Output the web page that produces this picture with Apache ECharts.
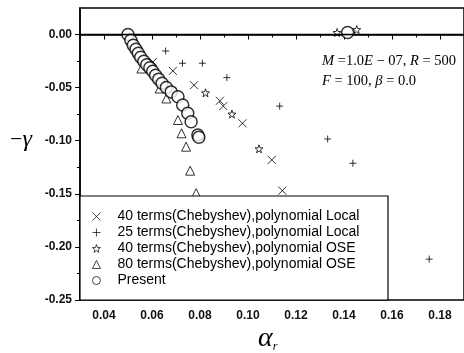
<!DOCTYPE html>
<html><head><meta charset="utf-8">
<script src="https://cdn.jsdelivr.net/npm/echarts@6/dist/echarts.min.js"></script>
<style>html,body{margin:0;padding:0;background:#fff}#c{width:464px;height:353px}</style>
</head><body><div id="c"></div>
<script>
// ---- data ----
var xTickValues = [0.04, 0.06, 0.08, 0.10, 0.12, 0.14, 0.16, 0.18];
var xMinorTickValues = [0.03, 0.05, 0.07, 0.09, 0.11, 0.13, 0.15, 0.17, 0.19];
var yTickValues = [-0.25, -0.20, -0.15, -0.10, -0.05, 0.00];
var yMinorTickValues = [-0.225, -0.175, -0.125, -0.075, -0.025];

var seriesNames = [
  '40 terms(Chebyshev),polynomial Local',
  '25 terms(Chebyshev),polynomial Local',
  '40 terms(Chebyshev),polynomial OSE',
  '80 terms(Chebyshev),polynomial OSE',
  'Present'
];

var local40X = [0.0604, 0.0687, 0.0775, 0.0883, 0.0897, 0.0977, 0.1099, 0.1143];
var local40Y = [-0.0258, -0.0342, -0.0477, -0.0624, -0.0674, -0.0836, -0.1181, -0.1470];

var local25X = [0.0657, 0.0727, 0.0810, 0.0912, 0.1132, 0.1332, 0.1437, 0.1755];
var local25Y = [-0.0155, -0.0270, -0.0270, -0.0406, -0.0674, -0.0984, -0.1212, -0.2115];

var ose40X = [0.0823, 0.0933, 0.1046, 0.1371, 0.1453];
var ose40Y = [-0.0549, -0.0749, -0.1076, 0.0019, 0.0047];

var ose80X = [0.0556, 0.0632, 0.0660, 0.0708, 0.0723, 0.0742, 0.0759, 0.0784];
var ose80Y = [-0.0320, -0.0508, -0.0602, -0.0805, -0.0930, -0.1056, -0.1282, -0.1494];

var presentX = [0.0500, 0.0512, 0.0522, 0.0533, 0.0543, 0.0553, 0.0566, 0.0578, 0.0591, 0.0603, 0.0615,
  0.0628, 0.0642, 0.0660, 0.0680, 0.0708, 0.0728, 0.0749, 0.0763, 0.0791, 0.0795, 0.1415];
var presentY = [0.0000, -0.0054, -0.0101, -0.0138, -0.0176, -0.0213, -0.0251, -0.0284, -0.0312, -0.0345, -0.0383,
  -0.0420, -0.0458, -0.0498, -0.0540, -0.0586, -0.0664, -0.0742, -0.0821, -0.0946, -0.0968, 0.0020];

function zip(xs, ys) { return xs.map(function (x, i) { return [x, ys[i]]; }); }

var SYM_X = 'path://M0,0L10,10M10,0L0,10';
var SYM_PLUS = 'path://M5,0L5,10M0,5L10,5';
var SYM_STAR = 'path://M5,0L6.2,3.6L10,3.8L7,6.1L8.1,9.8L5,7.6L1.9,9.8L3,6.1L0,3.8L3.8,3.6Z';

var hollow = { color: 'transparent', borderColor: '#000', borderWidth: 1 };

var chart = echarts.init(document.getElementById('c'), null, { renderer: 'canvas' });
var labelFont = { fontFamily: 'Liberation Sans, Arial, sans-serif', fontSize: 12, fontWeight: 'bold', color: '#111' };

chart.setOption({
  backgroundColor: '#fff',
  animation: false,
  grid: { left: 80, top: 8, right: -2, bottom: 53, show: true, borderColor: '#000', borderWidth: 1.5, backgroundColor: 'transparent' },
  xAxis: [{
    type: 'value', min: 0.03, max: 0.19, position: 'bottom',
    axisLine: { show: true, lineStyle: { color: '#000', width: 1.5 } },
    axisTick: { show: true, customValues: xTickValues, length: 5, lineStyle: { color: '#000', width: 1 } },
    axisLabel: Object.assign({ customValues: xTickValues, margin: 10, formatter: function (v) { return v.toFixed(2); } }, labelFont),
    splitLine: { show: false }
  }, {
    type: 'value', min: 0.03, max: 0.19, position: 'bottom',
    axisLine: { show: false },
    axisTick: { show: true, customValues: xMinorTickValues, length: 3, lineStyle: { color: '#000', width: 1 } },
    axisLabel: { show: false }, splitLine: { show: false }
  }],
  yAxis: [{
    type: 'value', min: -0.25, max: 0.025, position: 'left',
    axisLine: { show: true, lineStyle: { color: '#000', width: 1.5 } },
    axisTick: { show: true, customValues: yTickValues, length: 5, lineStyle: { color: '#000', width: 1 } },
    axisLabel: Object.assign({ customValues: yTickValues, margin: 8, formatter: function (v) { return v.toFixed(2); } }, labelFont),
    splitLine: { show: false }
  }, {
    type: 'value', min: -0.25, max: 0.025, position: 'left',
    axisLine: { show: false },
    axisTick: { show: true, customValues: yMinorTickValues, length: 3, lineStyle: { color: '#000', width: 1 } },
    axisLabel: { show: false }, splitLine: { show: false }
  }],
  legend: {
    orient: 'vertical', left: 92, top: 209.5, z: 10,
    padding: 0, itemGap: 2, itemWidth: 8, itemHeight: 8,
    data: seriesNames,
    itemStyle: { borderWidth: 0.9 },
    textStyle: { fontFamily: 'Liberation Sans, Arial, sans-serif', fontSize: 14, lineHeight: 13.25, color: '#000', padding: [0, 0, 0, 12] }
  },
  graphic: [
    { type: 'rect', z: 5, shape: { x: 80, y: 196, width: 308, height: 104 }, style: { fill: '#fff', stroke: '#000', lineWidth: 1.2 } },
    { type: 'text', z: 6, left: 322, top: 54, style: { text: '{i|M} =1.0{i|E} − 07, {i|R} = 500', font: '14.5px Liberation Serif', fill: '#000',
        rich: { i: { fontFamily: 'Liberation Serif', fontStyle: 'italic', fontSize: 14.5 } } } },
    { type: 'text', z: 6, left: 322, top: 74, style: { text: '{i|F} = 100, {i|β} = 0.0', font: '14.5px Liberation Serif', fill: '#000',
        rich: { i: { fontFamily: 'Liberation Serif', fontStyle: 'italic', fontSize: 14.5 } } } },
    { type: 'text', z: 6, left: 10, top: 128, style: { text: '−{i|γ}', font: '22px Liberation Serif', fill: '#000',
        rich: { i: { fontFamily: 'Liberation Serif', fontStyle: 'italic', fontSize: 24 } } } },
    { type: 'text', z: 6, left: 258, top: 325, style: { text: '{a|α}{s|r}', fill: '#000',
        rich: { a: { fontFamily: 'Liberation Serif', fontStyle: 'italic', fontSize: 28 }, s: { fontFamily: 'Liberation Serif', fontStyle: 'italic', fontSize: 12, padding: [16, 0, 0, 0] } } } }
  ],
  series: [
    { name: seriesNames[0], type: 'scatter', data: zip(local40X, local40Y), symbol: SYM_X, symbolSize: 8, itemStyle: hollow, z: 2,
      markLine: { silent: true, symbol: ['none', 'none'], label: { show: false }, lineStyle: { color: '#000', type: 'solid', width: 1.4 }, data: [{ yAxis: 0 }] } },
    { name: seriesNames[1], type: 'scatter', data: zip(local25X, local25Y), symbol: SYM_PLUS, symbolSize: 7, itemStyle: hollow, z: 2 },
    { name: seriesNames[2], type: 'scatter', data: zip(ose40X, ose40Y), symbol: SYM_STAR, symbolSize: 8, itemStyle: hollow, z: 2 },
    { name: seriesNames[3], type: 'scatter', data: zip(ose80X, ose80Y), symbol: 'triangle', symbolSize: 9, itemStyle: hollow, z: 2 },
    { name: seriesNames[4], type: 'scatter', data: zip(presentX, presentY), symbol: 'circle', symbolSize: 12,
      itemStyle: { color: '#fff', borderColor: '#000', borderWidth: 1.5 }, z: 3 }
  ]
});
</script></body></html>
